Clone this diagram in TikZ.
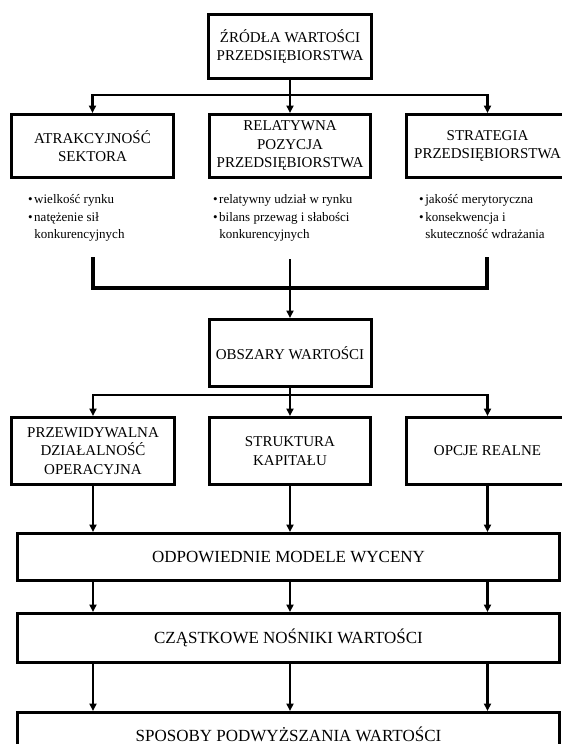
\documentclass[tikz,border=0pt]{standalone}
\usepackage{fontspec}
\setmainfont{Liberation Serif}
\usetikzlibrary{arrows.meta}
\begin{document}
\begin{tikzpicture}[x=1pt,y=-1pt,
  box/.style={draw, line width=3pt, align=center, inner sep=2pt,
    font=\fontsize{15}{18.5}\selectfont},
  wbox/.style={box, font=\fontsize{17}{20}\selectfont},
  ln/.style={line width=2.2pt},
  arr/.style={ln, -{Triangle[length=7.5pt,width=7pt]}},
  brk/.style={line width=4pt, line join=miter},
  bul/.style={anchor=base west, inner sep=0pt, font=\fontsize{13}{17.5}\selectfont}]
\useasboundingbox (0,0) rectangle (562,744);
\clip (0,0) rectangle (562,744);

% boxes
\node[box, minimum width=163pt, minimum height=64pt] (top) at (290,46.5) {ŹRÓDŁA WARTOŚCI\\PRZEDSIĘBIORSTWA};
\node[box, minimum width=162pt, minimum height=63pt] (atr) at (92.5,146) {ATRAKCYJNOŚĆ\\SEKTORA};
\node[box, minimum width=161pt, minimum height=63pt] (rel) at (290,146) {RELATYWNA\\POZYCJA\\PRZEDSIĘBIORSTWA};
\node[box, minimum width=162pt, minimum height=63pt] (str) at (487.5,146) {STRATEGIA\\PRZEDSIĘBIORSTWA};

\node[bul] (b1) at (28,203.5) {\begin{tabular}[t]{@{}l@{\hspace{1.5pt}}l@{}}•&wielkość rynku\\•&natężenie sił\\&konkurencyjnych\end{tabular}};
\node[bul] (b2) at (213,203.5) {\begin{tabular}[t]{@{}l@{\hspace{1.5pt}}l@{}}•&relatywny udział w rynku\\•&bilans przewag i słabości\\&konkurencyjnych\end{tabular}};
\node[bul] (b3) at (419,203.5) {\begin{tabular}[t]{@{}l@{\hspace{1.5pt}}l@{}}•&jakość merytoryczna\\•&konsekwencja i\\&skuteczność wdrażania\end{tabular}};

\node[box, minimum width=162pt, minimum height=67pt] (obs) at (290,353) {OBSZARY WARTOŚCI};

\node[box, minimum width=163pt, minimum height=67pt] (op) at (93,451) {PRZEWIDYWALNA\\DZIAŁALNOŚĆ\\OPERACYJNA};
\node[box, minimum width=161pt, minimum height=67pt] (kap) at (290,451) {STRUKTURA\\KAPITAŁU};
\node[box, minimum width=162pt, minimum height=67pt] (real) at (487.5,451) {OPCJE REALNE};

\node[wbox, minimum width=542pt, minimum height=47pt] (mod) at (288.5,557) {ODPOWIEDNIE MODELE WYCENY};
\node[wbox, minimum width=542pt, minimum height=49pt] (cz) at (288.5,638) {CZĄSTKOWE NOŚNIKI WARTOŚCI};
\node[wbox, minimum width=542pt, minimum height=44pt, anchor=north] (spo) at (288.5,711) {SPOSOBY PODWYŻSZANIA WARTOŚCI};

% top distribution
\coordinate (j1) at (top.south |- 0,95);
\draw[ln] (top.south) -- (j1);
\draw[arr] (j1) -| (atr.north);
\draw[arr] (j1) -| (str.north);
\draw[arr] (j1) -- (rel.north);

% bracket
\coordinate (bl) at (93,257);
\coordinate (blb) at (93,288);
\coordinate (br) at (487,257);
\coordinate (brb) at (487,288);
\coordinate (bm) at (obs.north |- 0,259);
\draw[brk] (bl) -- (blb) -- (brb) -- (br);
\draw[arr] (bm) -- (obs.north);

% second distribution
\coordinate (j2) at (obs.south |- 0,395);
\draw[ln] (obs.south) -- (j2);
\draw[arr] (j2) -| (op.north);
\draw[arr] (j2) -| (real.north);
\draw[arr] (j2) -- (kap.north);

% into models
\foreach \n in {op,kap,real}{
  \draw[arr] (\n.south) -- (\n.south |- mod.north);
  \draw[arr] (mod.south -| \n.south) -- (cz.north -| \n.south);
  \draw[arr] (cz.south -| \n.south) -- (spo.north -| \n.south);
}
\end{tikzpicture}
\end{document}
